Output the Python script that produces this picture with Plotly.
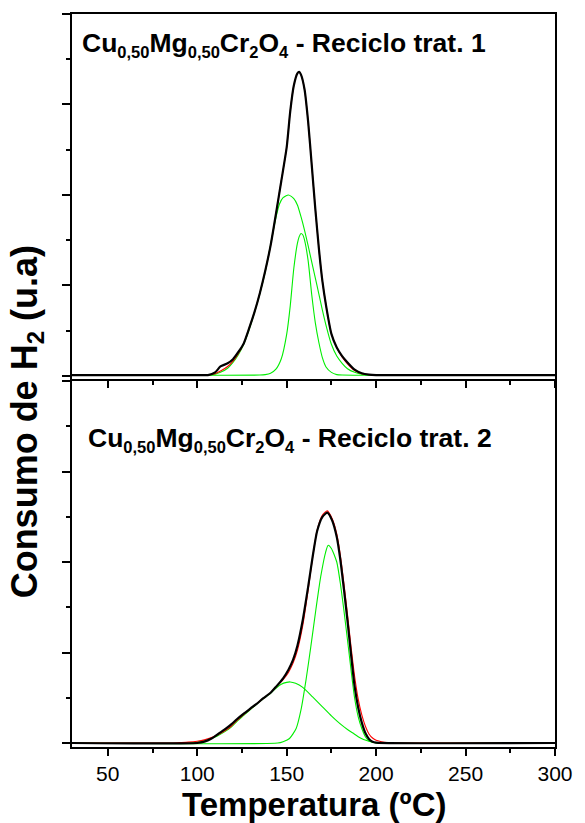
import plotly.graph_objects as go

# ---- Upper panel: Reciclo trat. 1 ----
temp_top = [30, 100, 106, 110, 113, 117, 120, 123, 126, 129, 132, 135, 138, 141, 144, 147, 150, 152, 154, 156,
            157, 158, 160, 162, 164, 166, 168, 170, 172, 175, 178, 181, 184, 188, 192, 196, 200, 300]
exp_top = [0.02, 0.02, 0.02, 0.08, 0.21, 0.28, 0.37, 0.53, 0.72, 1.05, 1.41, 1.83, 2.32, 2.88, 3.58, 4.31, 5.05, 5.85, 6.42, 6.69,
           6.72, 6.66, 6.33, 5.62, 4.67, 3.70, 2.82, 2.09, 1.56, 0.93, 0.63, 0.44, 0.30, 0.14, 0.06, 0.03, 0.02, 0.02]
fit_top = [0.02, 0.02, 0.02, 0.05, 0.11, 0.21, 0.33, 0.50, 0.72, 1.05, 1.41, 1.83, 2.32, 2.88, 3.58, 4.31, 5.05, 5.85, 6.42, 6.69,
           6.72, 6.66, 6.33, 5.62, 4.67, 3.70, 2.82, 2.09, 1.56, 0.93, 0.63, 0.42, 0.27, 0.12, 0.05, 0.03, 0.02, 0.02]

temp_top_p1 = [30, 100, 106, 110, 113, 117, 120, 123, 126, 129, 132, 135, 138, 141, 144, 146, 148, 151, 154, 156,
               158, 160, 162, 164, 166, 168, 170, 172, 175, 178, 181, 184, 188, 192, 196, 200, 300]
peak1_top = [0.02, 0.02, 0.02, 0.04, 0.08, 0.17, 0.30, 0.47, 0.70, 1.02, 1.40, 1.82, 2.30, 2.90, 3.50, 3.80, 3.94, 4.00, 3.92, 3.78,
             3.52, 3.22, 2.88, 2.52, 2.17, 1.81, 1.45, 1.12, 0.70, 0.44, 0.28, 0.16, 0.08, 0.04, 0.02, 0.02, 0.02]

temp_top_p2 = [30, 135, 138, 141, 144, 147, 150, 152, 154, 156, 157, 158, 159, 160, 162, 164, 166, 168, 170, 172,
               175, 178, 181, 300]
peak2_top = [0.02, 0.02, 0.03, 0.06, 0.15, 0.38, 0.92, 1.55, 2.38, 2.93, 3.08, 3.15, 3.12, 3.00, 2.55, 1.80, 1.18, 0.74, 0.40, 0.20,
             0.08, 0.03, 0.02, 0.02]

# ---- Lower panel: Reciclo trat. 2 ----
temp_bot = [30, 100, 104, 108, 111, 115, 119, 122, 126, 130, 133, 137, 141, 144, 148, 151, 153.5, 156, 159, 162,
            164.5, 167, 170, 172.7, 175.4, 178, 180, 182, 184, 186, 188, 190, 192, 194, 196, 198, 200, 300]
exp_bot = [0.0, 0.0, 0.03, 0.10, 0.18, 0.29, 0.41, 0.52, 0.65, 0.77, 0.86, 0.99, 1.11, 1.24, 1.43, 1.62, 1.83, 2.15, 2.72, 3.45,
           4.11, 4.68, 5.00, 5.09, 4.92, 4.55, 4.05, 3.40, 2.70, 1.95, 1.25, 0.78, 0.45, 0.22, 0.09, 0.03, 0.01, 0.0]

temp_bot_fit = [30, 85, 90, 95, 100, 104, 108, 111, 115, 119, 122, 126, 130, 133, 137, 141, 144, 148, 151, 153.5,
                156, 159, 162, 164.5, 167, 170, 172.7, 175.4, 178, 180, 182, 184, 186, 188, 190, 192, 194, 196, 198, 200,
                203, 206, 210, 300]
fit_bot = [0.0, 0.0, 0.01, 0.02, 0.04, 0.07, 0.12, 0.17, 0.26, 0.37, 0.49, 0.63, 0.76, 0.86, 0.99, 1.11, 1.24, 1.40, 1.56, 1.76,
           2.05, 2.60, 3.38, 4.10, 4.70, 5.04, 5.13, 4.96, 4.62, 4.15, 3.52, 2.84, 2.12, 1.47, 0.97, 0.62, 0.37, 0.20, 0.11, 0.06,
           0.03, 0.01, 0.0, 0.0]

temp_bot_p1 = [30, 95, 100, 104, 108, 111, 115, 119, 122, 126, 130, 133, 137, 141, 144, 147, 150, 152, 155, 159,
               164.5, 170, 175, 178, 181, 184, 187, 190, 193, 196, 199, 202, 300]
peak1_bot = [0.0, 0.0, 0.02, 0.05, 0.10, 0.15, 0.24, 0.35, 0.47, 0.61, 0.75, 0.85, 0.98, 1.10, 1.21, 1.30, 1.34, 1.35, 1.32, 1.23,
             1.02, 0.80, 0.60, 0.49, 0.39, 0.30, 0.22, 0.14, 0.08, 0.04, 0.01, 0.0, 0.0]

temp_bot_p2 = [30, 145, 148, 151.6, 155.3, 158, 160.8, 163.5, 166.3, 169, 171.8, 173.2, 175, 178, 180, 182, 184, 186, 188, 190,
               192, 194, 196, 198, 200, 300]
peak2_bot = [0.0, 0.0, 0.03, 0.10, 0.32, 0.73, 1.39, 2.13, 2.94, 3.67, 4.22, 4.37, 4.30, 4.00, 3.53, 2.93, 2.28, 1.61, 0.99, 0.58,
             0.32, 0.14, 0.05, 0.02, 0.0, 0.0]

x_ticks = [50, 100, 150, 200, 250, 300]

GREEN = "#00ee00"
RED = "#ff0000"
BLACK = "#000000"

fig = go.Figure()


def add_curve(x, y, color, width, xa, ya):
    fig.add_trace(go.Scatter(x=x, y=y, mode="lines", xaxis=xa, yaxis=ya,
                             line=dict(color=color, width=width, shape="spline", smoothing=0.6),
                             showlegend=False, hoverinfo="skip"))


# upper panel (x2 / y2)
add_curve(temp_top_p1, peak1_top, GREEN, 1.1, "x2", "y2")
add_curve(temp_top_p2, peak2_top, GREEN, 1.1, "x2", "y2")
add_curve(temp_top, fit_top, RED, 1.1, "x2", "y2")
add_curve(temp_top, exp_top, BLACK, 2.2, "x2", "y2")

# lower panel (x / y)
add_curve(temp_bot_p1, peak1_bot, GREEN, 1.1, "x", "y")
add_curve(temp_bot_p2, peak2_bot, GREEN, 1.1, "x", "y")
add_curve(temp_bot_fit, fit_bot, RED, 1.1, "x", "y")
add_curve(temp_bot, exp_bot, BLACK, 2.2, "x", "y")

FONT = "Liberation Sans, Arial, sans-serif"

xcommon = dict(range=[30, 300], showline=True, linecolor="black", linewidth=2, mirror=True,
               ticks="outside", ticklen=7, tickwidth=2, tickcolor="black",
               tickvals=x_ticks, showgrid=False, zeroline=False,
               minor=dict(ticks="outside", ticklen=4, tickwidth=1.5, tickcolor="black",
                          tickvals=[75, 125, 175, 225, 275], showgrid=False))
ycommon = dict(showline=True, linecolor="black", linewidth=2, mirror=True,
               ticks="outside", ticklen=8, tickwidth=2, tickcolor="black",
               tick0=0, dtick=2, showticklabels=False, showgrid=False, zeroline=False,
               minor=dict(ticks="outside", ticklen=4, tickwidth=1.5, tickcolor="black",
                          dtick=1, tick0=0, showgrid=False))

fig.update_layout(
    width=585, height=823,
    margin=dict(l=72, r=22, t=14, b=76),
    paper_bgcolor="white", plot_bgcolor="white",
    font=dict(family=FONT, color="black"),
    xaxis=dict(**xcommon, anchor="y", showticklabels=True,
               tickfont=dict(family=FONT, size=21, color="black")),
    yaxis=dict(**ycommon, domain=[0, 0.4993], range=[-0.088, 8]),
    xaxis2=dict(**xcommon, anchor="y2", matches="x", showticklabels=False),
    yaxis2=dict(**ycommon, domain=[0.5021, 1], range=[-0.066, 8]),
)


def sub(s, size=16.5):
    return f"<sub><span style='font-size:{size}px'>{s}</span></sub>"


formula = f"Cu{sub('0,50')}Mg{sub('0,50')}Cr{sub('2')}O{sub('4')}"

title_font = dict(family=FONT, size=26.5, color="black")
fig.add_annotation(text=f"<b>{formula} - Reciclo trat. 1</b>",
                   xref="paper", yref="paper", x=0.0163, y=0.958, xanchor="left", yanchor="middle",
                   showarrow=False, font=title_font)
fig.add_annotation(text=f"<b>{formula} - Reciclo trat. 2</b>",
                   xref="paper", yref="paper", x=0.0285, y=0.419, xanchor="left", yanchor="middle",
                   showarrow=False, font=title_font)

fig.add_annotation(text="<b>Temperatura (ºC)</b>", xref="paper", yref="paper",
                   x=0.5, y=-0.079, xanchor="center", yanchor="middle", showarrow=False,
                   font=dict(family=FONT, size=33, color="black"))
fig.add_annotation(text=f"<b>Consumo de H{sub('2', 24)} (u.a)</b>", xref="paper", yref="paper",
                   x=-0.093, y=0.443, xanchor="center", yanchor="middle", textangle=-90, showarrow=False,
                   font=dict(family=FONT, size=36, color="black"))

fig.write_html("out.html")
